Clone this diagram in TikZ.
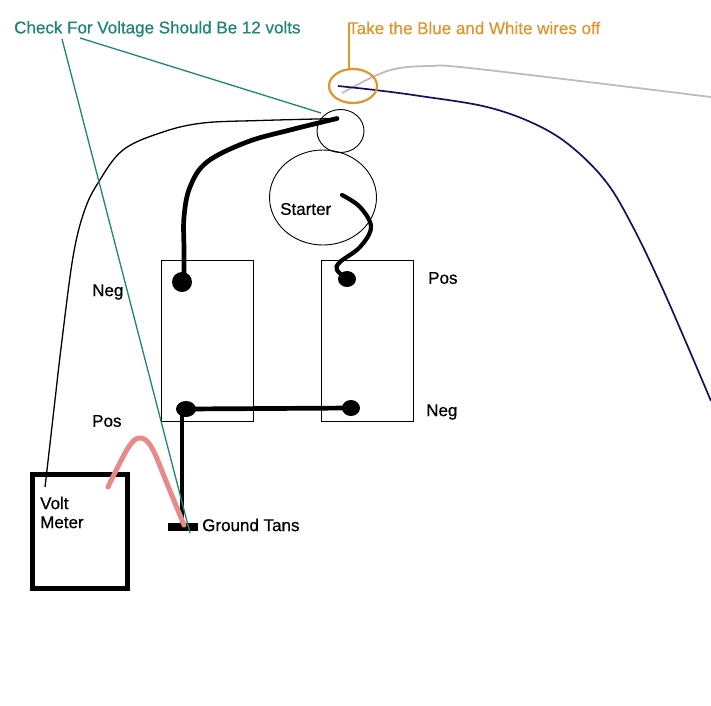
\documentclass[tikz,border=0pt]{standalone}
\usepackage{fontspec}
\usetikzlibrary{shapes.geometric}
\setmainfont[FakeBold=0.6]{Liberation Sans}
\definecolor{tealc}{HTML}{1F8578}
\definecolor{orangec}{HTML}{E0952F}
\definecolor{pinkc}{HTML}{E88A8A}
\definecolor{navyc}{HTML}{14125E}
\definecolor{greyc}{HTML}{BDBDBD}
\tikzset{
  lbl/.style={font=\fontsize{17}{19}\selectfont, text=black, inner sep=0pt, anchor=west, align=left},
  thin outline/.style={draw=black, line width=0.9pt},
  post/.style={fill=black, draw=none, ellipse, inner sep=0pt},
  heavy/.style={draw=black, line width=4.7pt, line cap=round, line join=round},
  curved/.style={smooth, tension=0.6},
}
\begin{document}
\begin{tikzpicture}[x=1pt,y=-1pt]
\useasboundingbox (0,0) rectangle (711,705);
\fill[white] (0,0) rectangle (711,705);
% outlines
\draw[thin outline] (340.5,131) ellipse[x radius=23.5, y radius=21.5];
\draw[thin outline] (323,197.5) ellipse[x radius=53.5, y radius=47.5];
\node[thin outline, minimum width=92pt, minimum height=161pt, inner sep=0pt] (bat1) at (207.5,340.5) {};
\node[thin outline, minimum width=92pt, minimum height=161pt, inner sep=0pt] (bat2) at (367.5,340.5) {};
\node[draw=black, line width=5pt, minimum width=95pt, minimum height=114pt, inner sep=0pt] (meter) at (80,531.5) {};
% coordinates
\coordinate (solenoid) at (337,118.5);
\coordinate (p1) at (182,282);
\coordinate (p2) at (347,279);
\coordinate (p3) at (186,409);
\coordinate (p4) at (351,408);
\coordinate (meterw) at (45,487);
\coordinate (pinkstart) at (108,487);
\coordinate (pinkend) at (184,525);
\coordinate (bluestart) at (338,86);
\coordinate (greystart) at (342,93);
\coordinate (bluee) at (711,401);
\coordinate (greye) at (711,97);
\coordinate (tealt) at (62,39);
\coordinate (tealu) at (80,38);
\coordinate (tealv) at (321,113);
\coordinate (teale) at (190,533);
\coordinate (orangetop) at (349,23);
\coordinate (orangebot) at (349,69);
% posts
\node[post, minimum width=20pt, minimum height=20pt] (post1) at (p1) {};
\node[post, minimum width=18pt, minimum height=16pt] (post2) at (p2) {};
\node[post, minimum width=20pt, minimum height=16pt] (post3) at (p3) {};
\node[post, minimum width=18pt, minimum height=16pt] (post4) at (p4) {};
\node[fill=black, minimum width=30pt, minimum height=8pt, inner sep=0pt] (gnd) at (183,527) {};
% wires
\draw[draw=black, line width=1.3pt] plot[curved] coordinates {(meterw) (47,470) (55,400) (62,340) (73,257) (84,212) (98,183) (123,150) (163,132) (203,123) (260,120.5) (solenoid)};
\draw[heavy] plot[curved] coordinates {(184,282) (184,250) (184,217) (190,187) (207,162) (247,142) (290,130) (solenoid)};
\draw[draw=black, line width=4.2pt, line cap=round] plot[curved] coordinates {(342,195) (360,207) (371,227) (360,247) (340,262) (337,270) (p2)};
\draw[heavy, line cap=butt] (p3) -- (p4);
\draw[heavy, line cap=butt] (182,409) -- (182,527);
\draw[draw=pinkc, line width=5pt, line cap=round, line join=round] plot[curved] coordinates {(pinkstart) (128,448) (140,438) (152,448) (168,486) (pinkend)};
\draw[draw=greyc, line width=1.8pt] plot[curved] coordinates {(greystart) (377,75) (400,68) (430,66) (460,67) (580,81) (greye)};
\draw[draw=navyc, line width=1.7pt] plot[curved] coordinates {(bluestart) (375,90) (420,96) (487,107) (537,125) (573,148) (607,183) (633,227) (660,283) (685,340) (bluee)};
% teal
\draw[draw=tealc, line width=1.3pt] (tealt) -- (teale);
\draw[draw=tealc, line width=1.3pt] (tealu) -- (tealv);
% orange
\draw[draw=orangec, line width=2pt] (orangebot) -- (orangetop);
\draw[draw=orangec, line width=2.2pt] (353,86) ellipse[x radius=24, y radius=17];
% labels
\node[lbl, text=tealc] (t1) at (14,29) {Check For Voltage Should Be 12 volts};
\node[lbl, text=orangec] (t2) at (348,28) {Take the Blue and White wires off};
\node[lbl] (t3) at (280,209) {Starter};
\node[lbl] (t4) at (92,292) {Neg};
\node[lbl] (t5) at (428,278) {Pos};
\node[lbl] (t6) at (92,421) {Pos};
\node[lbl] (t7) at (426,412) {Neg};
\node[lbl] (t8) at (40,512.5) {Volt\\Meter};
\node[lbl] (t9) at (202,525) {Ground Tans};
\end{tikzpicture}
\end{document}
